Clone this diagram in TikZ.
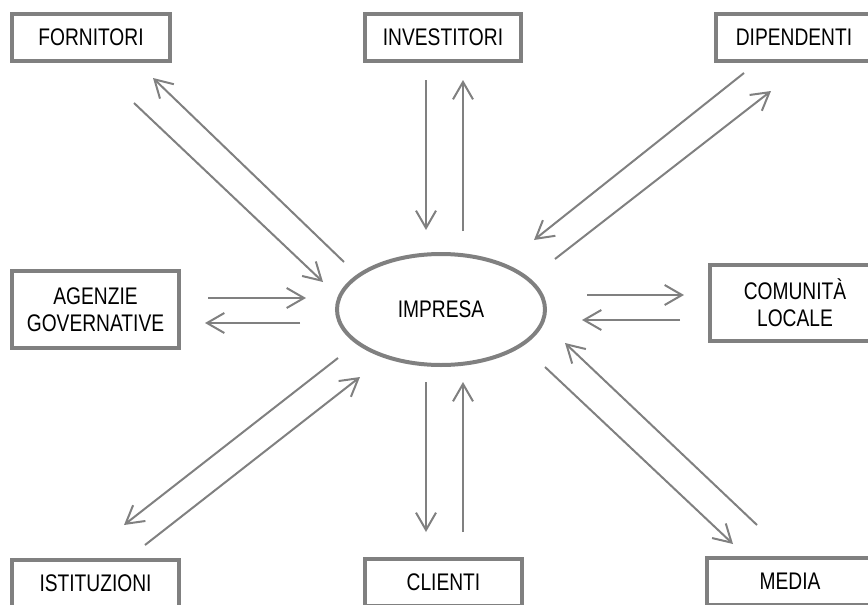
\documentclass[tikz,border=0pt]{standalone}
\usepackage{fontspec}
\setmainfont{Liberation Sans}[FakeStretch=0.8]
\usetikzlibrary{arrows.meta,shapes.geometric}
\usepackage{xcolor}
\definecolor{edge}{RGB}{128,128,128}

\begin{document}
\begin{tikzpicture}[x=0.75pt,y=-0.75pt,
  box/.style={rectangle, draw=edge, line width=3pt, fill=white, inner sep=0pt, font=\fontsize{18}{20.25}\selectfont, align=center},
  firm/.style={ellipse, draw=edge, line width=3pt, inner sep=0pt, minimum width=156pt, minimum height=83.25pt, font=\fontsize{18}{20.25}\selectfont},
  flow/.style={-{Straight Barb[length=13pt,width=15pt,line width=1.5pt]}, line width=1.5pt, draw=edge}
]
\useasboundingbox (0,0) rectangle (868,604);
\clip (0,0) rectangle (868,604);

\node[firm] (impresa) at (441,309.5) {IMPRESA};

\node[box, minimum width=118.5pt, minimum height=35.25pt] (fornitori) at (91,37.5) {FORNITORI};
\node[box, minimum width=117pt, minimum height=35.25pt] (investitori) at (443,37.5) {INVESTITORI};
\node[box, minimum width=117pt, minimum height=35.25pt] (dipendenti) at (794,37.5) {DIPENDENTI};
\node[box, minimum width=125.25pt, minimum height=57.75pt] (agenzie) at (95.5,309.5) {AGENZIE\\GOVERNATIVE};
\node[box, minimum width=127.5pt, minimum height=57pt] (comunita) at (795,303) {COMUNITÀ\\LOCALE};
\node[box, minimum width=125.25pt, minimum height=35.25pt] (istituzioni) at (95.5,583.5) {ISTITUZIONI};
\node[box, minimum width=117.75pt, minimum height=35.25pt] (clienti) at (443.5,582.5) {CLIENTI};
\node[box, minimum width=124.5pt, minimum height=35.25pt] (media) at (790,581.5) {MEDIA};

% arrow ends
\coordinate (invA) at (426,80);   \coordinate (invB) at (426,230);
\coordinate (invC) at (463,231);  \coordinate (invD) at (463,80);
\coordinate (cliA) at (426,382);  \coordinate (cliB) at (426,532);
\coordinate (cliC) at (463,532);  \coordinate (cliD) at (463,382);
\coordinate (forA) at (344,262);  \coordinate (forB) at (153,78);
\coordinate (forC) at (134,103);  \coordinate (forD) at (323,282);
\coordinate (dipA) at (744,73);   \coordinate (dipB) at (534,240);
\coordinate (dipC) at (555,259);  \coordinate (dipD) at (771,91);
\coordinate (ageA) at (208,298);  \coordinate (ageB) at (306,298);
\coordinate (ageC) at (300,323);  \coordinate (ageD) at (205,323);
\coordinate (comA) at (587,295);  \coordinate (comB) at (684,295);
\coordinate (comC) at (680,320);  \coordinate (comD) at (582,320);
\coordinate (istA) at (338,358);  \coordinate (istB) at (124,525);
\coordinate (istC) at (145,545);  \coordinate (istD) at (360,377);
\coordinate (medA) at (545,367);  \coordinate (medB) at (733,544);
\coordinate (medC) at (757,525);  \coordinate (medD) at (565,343);

\draw[flow] (invA) -- (invB);
\draw[flow] (invC) -- (invD);
\draw[flow] (cliA) -- (cliB);
\draw[flow] (cliC) -- (cliD);
\draw[flow] (forA) -- (forB);
\draw[flow] (forC) -- (forD);
\draw[flow] (dipA) -- (dipB);
\draw[flow] (dipC) -- (dipD);
\draw[flow] (ageA) -- (ageB);
\draw[flow] (ageC) -- (ageD);
\draw[flow] (comA) -- (comB);
\draw[flow] (comC) -- (comD);
\draw[flow] (istA) -- (istB);
\draw[flow] (istC) -- (istD);
\draw[flow] (medA) -- (medB);
\draw[flow] (medC) -- (medD);
\end{tikzpicture}
\end{document}
